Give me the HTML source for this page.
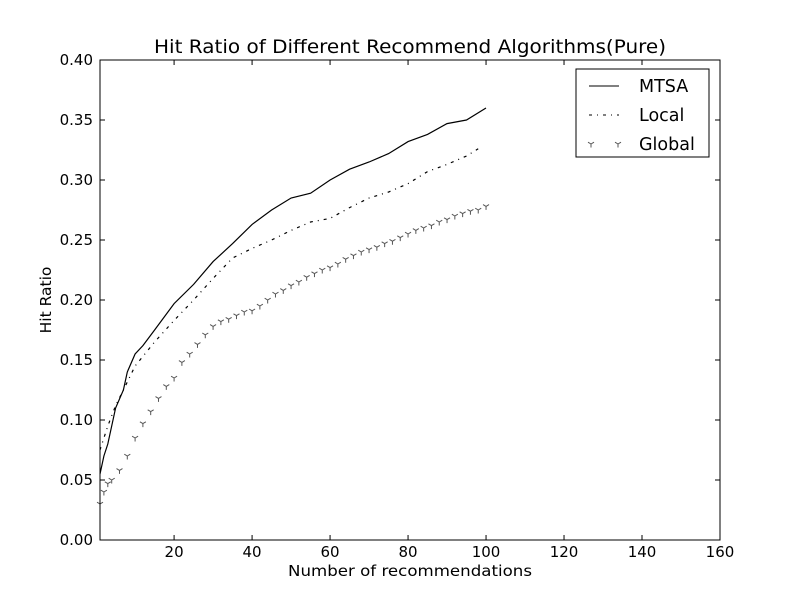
<!DOCTYPE html>
<html><head><meta charset="utf-8"><style>
body{margin:0;background:#fff}
svg text{font-family:"DejaVu Sans","Liberation Sans",sans-serif;fill:#000}
</style></head><body>
<svg id="chart" width="800" height="600" viewBox="0 0 800 600">
<rect width="800" height="600" fill="#fff"/>
<text x="154" y="53" font-size="19" textLength="512" lengthAdjust="spacingAndGlyphs">Hit Ratio of Different Recommend Algorithms(Pure)</text>
<g id="plot"></g>
<rect x="100" y="60" width="620" height="480" fill="none" stroke="#000" stroke-width="1"/>
<g id="axes"></g>
<text x="288" y="576" font-size="15.5" textLength="244" lengthAdjust="spacingAndGlyphs">Number of recommendations</text>
<text x="51" y="300" font-size="15.5" text-anchor="middle" transform="rotate(-90 51 300)">Hit Ratio</text>
<g>
<rect x="576" y="69" width="133" height="88" fill="#fff" stroke="#000"/>
<line x1="589" y1="86" x2="619" y2="86" stroke="#000"/>
<text x="639" y="92" font-size="17.5">MTSA</text>
<line x1="589" y1="115" x2="619" y2="115" stroke="#000" stroke-dasharray="3,5,1,5"/>
<text x="639" y="121" font-size="17.5">Local</text>
<g id="legmk"></g>
<text x="639" y="150" font-size="17.5">Global</text>
</g>
</svg>
<script>
const xTicks=[20,40,60,80,100,120,140,160];
const yTicks=[0,0.05,0.10,0.15,0.20,0.25,0.30,0.35,0.40];
const mtsaX=[1,2,3,5,7,8,10,12,15,20,25,30,35,40,45,50,55,60,65,70,75,80,85,90,95,100];
const mtsaY=[0.055,0.07,0.08,0.11,0.125,0.14,0.155,0.162,0.175,0.197,0.213,0.232,0.247,0.263,0.275,0.285,0.289,0.300,0.309,0.315,0.322,0.332,0.338,0.347,0.350,0.360];
const localX=[1,2,3,5,7,10,15,20,25,30,35,40,45,50,55,60,65,70,75,80,85,90,95,98];
const localY=[0.075,0.085,0.095,0.112,0.125,0.145,0.165,0.183,0.2,0.218,0.235,0.243,0.25,0.258,0.265,0.268,0.277,0.285,0.29,0.297,0.307,0.313,0.32,0.326];
const globalX=[1,2,3,4,6,8,10,12,14,16,18,20,22,24,26,28,30,32,34,36,38,40,42,44,46,48,50,52,54,56,58,60,62,64,66,68,70,72,74,76,78,80,82,84,86,88,90,92,94,96,98,100];
const globalY=[0.03,0.04,0.047,0.05,0.058,0.07,0.085,0.097,0.107,0.118,0.128,0.135,0.148,0.155,0.163,0.171,0.178,0.182,0.184,0.187,0.19,0.191,0.195,0.2,0.205,0.208,0.212,0.215,0.219,0.222,0.225,0.227,0.23,0.234,0.237,0.240,0.242,0.244,0.247,0.249,0.252,0.255,0.258,0.26,0.262,0.265,0.267,0.27,0.272,0.274,0.275,0.278];
const NS='http://www.w3.org/2000/svg';
const X=v=>100+(v-1)/159*620, Y=v=>540-v/0.4*480;
function mk(t,a,p){const e=document.createElementNS(NS,t);for(const k in a)e.setAttribute(k,a[k]);p.appendChild(e);return e;}
const axes=document.getElementById('axes'), plot=document.getElementById('plot');
xTicks.forEach(t=>{
 const l=mk('line',{x1:X(t),x2:X(t),y1:540,y2:535,stroke:'#000'},axes);
 
 
 const l2=mk('line',{x1:X(t),x2:X(t),y1:60,y2:65,stroke:'#000'},axes);
 
 
 const tx=mk('text',{x:X(t),y:557,'font-size':15,'text-anchor':'middle'},axes);tx.textContent=t;
 
 
});
yTicks.forEach(t=>{
 const l=mk('line',{x1:100,x2:105,y1:Y(t),y2:Y(t),stroke:'#000'},axes);
 
 
 const l2=mk('line',{x1:715,x2:720,y1:Y(t),y2:Y(t),stroke:'#000'},axes);
 
 
 const tx=mk('text',{x:93,y:Y(t)+5,'font-size':15,'text-anchor':'end'},axes);tx.textContent=t.toFixed(2);
 
 
});
function pts(xs,ys){return xs.map((x,i)=>X(x).toFixed(1)+','+Y(ys[i]).toFixed(1)).join(' ');}
const m=mk('polyline',{points:pts(mtsaX,mtsaY),fill:'none',stroke:'#000','stroke-width':1.2},plot);


const lo=mk('polyline',{points:pts(localX,localY),fill:'none',stroke:'#000','stroke-width':1.2,'stroke-dasharray':'3,5,1,5'},plot);


function tri(cx,cy,p,name){
 const g=mk('path',{d:`M${cx},${cy}v3.5M${cx},${cy}l-3,-1.8M${cx},${cy}l3,-1.8`,stroke:'#555',fill:'none','stroke-width':1},p);
 
 
}
globalX.forEach((x,i)=>tri(X(x),Y(globalY[i]),plot,'global-marker'));
const legmk=document.getElementById('legmk');
tri(591,144,legmk,'legend-global-marker');tri(618,144,legmk,'legend-global-marker');
</script>
</body></html>
